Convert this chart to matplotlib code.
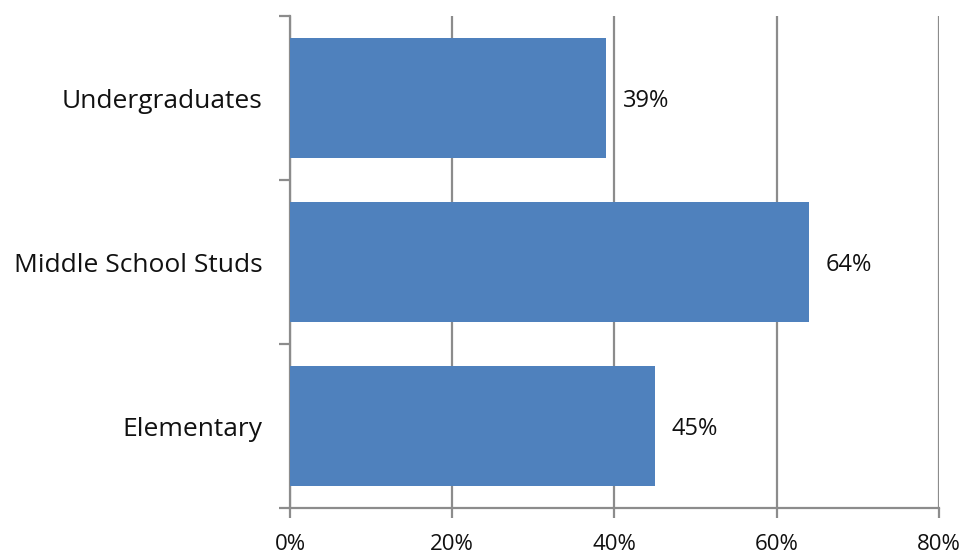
import matplotlib.pyplot as plt
from matplotlib.ticker import FuncFormatter, FixedLocator

categories = ["Elementary", "Middle School Studs", "Undergraduates"]
values = [45, 64, 39]
x_ticks = [0, 20, 40, 60, 80]

plt.rcParams['font.family'] = ['Open Sans', 'DejaVu Sans']

fig = plt.figure(figsize=(9.65, 5.54), dpi=100)
ax = fig.add_axes([0.3005, 0.083, 0.6725, 0.888])

pos = list(range(len(categories)))
ax.barh(pos, values, height=0.73, color='#4F81BD', zorder=3)
for p, v in zip(pos, values):
    ax.text(v + 2.0, p - 0.02, f"{v}%", va='center', ha='left', fontsize=17, color='#111111')

ax.set_xlim(0, 80)
ax.set_ylim(-0.5, len(categories) - 0.5)
ax.set_xticks(x_ticks)
ax.xaxis.set_major_formatter(FuncFormatter(lambda x, _: f"{x:.0f}%"))
ax.grid(axis='x', color='#8c8c8c', linewidth=1.6, zorder=0)

# category labels without ticks, boundary ticks as minor
ax.set_yticks(pos)
ax.set_yticklabels(categories, fontsize=19, color='#111111')
ax.tick_params(axis='y', which='major', length=0, pad=20)
ax.yaxis.set_minor_locator(FixedLocator([-0.5, 0.5, 1.5, 2.5]))
ax.tick_params(axis='y', which='minor', length=8, width=1.6, color='#8c8c8c')
ax.tick_params(axis='x', length=7, width=1.6, color='#8c8c8c', labelsize=16,
               labelcolor='#111111', pad=11.5)

for s in ['top', 'right']:
    ax.spines[s].set_visible(False)
for s in ['left', 'bottom']:
    ax.spines[s].set_color('#8c8c8c')
    ax.spines[s].set_linewidth(1.6)

fig.savefig('out.png', dpi=100)
